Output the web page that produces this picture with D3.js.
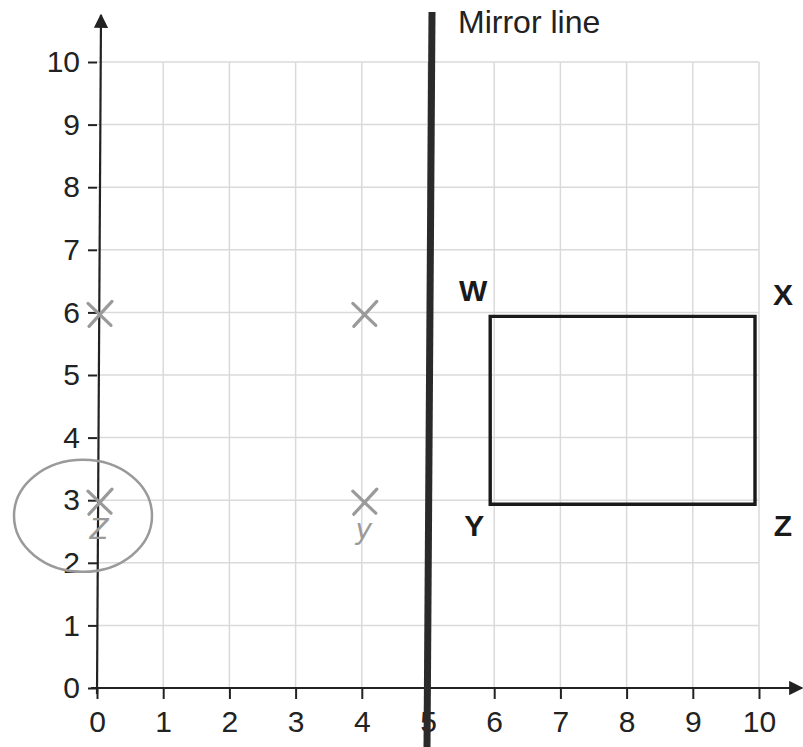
<!DOCTYPE html>
<html>
<head>
<meta charset="utf-8">
<script src="https://cdn.jsdelivr.net/npm/d3@7"></script>
<style>
  body { margin: 0; background: #fff; }
  svg { display: block; font-family: "Liberation Sans", Arial, sans-serif; }
</style>
</head>
<body>
<svg id="chart" width="803" height="747"></svg>
<script>
// axis ticks
const X_TICKS = [0, 1, 2, 3, 4, 5, 6, 7, 8, 9, 10];
const Y_TICKS = [0, 1, 2, 3, 4, 5, 6, 7, 8, 9, 10];

// the shape WXYZ
const SHAPE_NAMES = ["W", "X", "Z", "Y"];
const SHAPE_X = [6, 10, 10, 6];
const SHAPE_Y = [6, 6, 3, 3];

// mirror line
const MIRROR_X = 5;
const MIRROR_LABEL = "Mirror line";

// pencil marks from the student
const CROSS_X = [0, 4, 0, 4];
const CROSS_Y = [6, 6, 3, 3];
const NOTE_TEXT = ["Z", "y"];
const NOTE_X = [0, 4];
const NOTE_Y = [2.45, 2.45];

const svg = d3.select("#chart");

const x = d3.scaleLinear().domain([0, 10]).range([97, 759]);
const y = d3.scaleLinear().domain([0, 10]).range([688, 62]);

//Grid
svg.append("g").selectAll("line").data(X_TICKS.slice(1)).enter().append("line")
	.attr("x1", d => x(d)).attr("x2", d => x(d))
	.attr("y1", y(0)).attr("y2", y(10))
	.attr("stroke", "#dadada").attr("stroke-width", 1.5);
svg.append("g").selectAll("line").data(Y_TICKS.slice(1)).enter().append("line")
	.attr("x1", x(0)).attr("x2", x(10))
	.attr("y1", d => y(d)).attr("y2", d => y(d))
	.attr("stroke", "#dadada").attr("stroke-width", 1.5);

//Arrow marker
svg.append("defs").append("marker")
	.attr("id", "arrow").attr("viewBox", "0 0 10 10")
	.attr("refX", 9).attr("refY", 5)
	.attr("markerWidth", 6.5).attr("markerHeight", 6.5)
	.attr("markerUnits", "strokeWidth")
	.attr("orient", "auto")
	.append("path").attr("d", "M0,0 L10,5 L0,10 z").attr("fill", "#222");

//Axes
const xAxis = d3.axisBottom(x).tickValues(X_TICKS).tickSize(11).tickPadding(12).tickFormat(d3.format("d"));
const yAxis = d3.axisLeft(y).tickValues(Y_TICKS).tickSize(9).tickPadding(8).tickFormat(d3.format("d"));

const gx = svg.append("g").attr("transform", `translate(0,${y(0)})`).call(xAxis);
const gy = svg.append("g").attr("transform", `translate(${x(0)},0)`).call(yAxis);
for (const g of [gx, gy])
{
	g.select(".domain").remove();
	g.selectAll(".tick line").attr("stroke", "#222").attr("stroke-width", 2);
	g.selectAll(".tick text").attr("fill", "#222").attr("font-size", 30).attr("font-family", null);
}

svg.append("line")
	.attr("x1", x(0) - 6).attr("y1", y(0))
	.attr("x2", 802).attr("y2", y(0))
	.attr("stroke", "#222").attr("stroke-width", 2.2)
	.attr("marker-end", "url(#arrow)");
svg.append("line")
	.attr("x1", x(0)).attr("y1", y(0) + 6)
	.attr("x2", x(0) + 4).attr("y2", 15)
	.attr("stroke", "#222").attr("stroke-width", 2.2)
	.attr("marker-end", "url(#arrow)");

//Mirror line
svg.append("line")
	.attr("x1", x(MIRROR_X) + 4).attr("y1", 12)
	.attr("x2", x(MIRROR_X) - 1).attr("y2", 747)
	.attr("stroke", "#2a2a2a").attr("stroke-width", 7);
svg.append("text")
	.attr("x", 458).attr("y", 33)
	.attr("fill", "#222").attr("font-size", 32)
	.text(MIRROR_LABEL);

//Shape
const pts = SHAPE_X.map((d, i) => [x(d) - 4, y(SHAPE_Y[i]) + 4]);
svg.append("path")
	.attr("d", d3.line()(pts) + "Z")
	.attr("fill", "none").attr("stroke", "#1a1a1a").attr("stroke-width", 3.4);

const labelOffset = {W: [-21, -22], X: [24, -18], Y: [-20, 25], Z: [24, 25]};
svg.append("g").selectAll("text").data(SHAPE_NAMES).enter().append("text")
	.attr("x", (d, i) => x(SHAPE_X[i]) + labelOffset[d][0])
	.attr("y", (d, i) => y(SHAPE_Y[i]) + labelOffset[d][1])
	.attr("text-anchor", "middle").attr("dominant-baseline", "central")
	.attr("fill", "#1a1a1a").attr("font-size", 30).attr("font-weight", "bold")
	.text(d => d);

//Pencil marks
const pencil = svg.append("g").attr("stroke", "#9a9a9a").attr("stroke-width", 3.2).attr("fill", "none").attr("stroke-linecap", "round");
CROSS_X.forEach((cx, i) =>
{
	const px = x(cx) + 3, py = y(CROSS_Y[i]) + 2;
	pencil.append("line").attr("x1", px - 12).attr("y1", py - 11).attr("x2", px + 11).attr("y2", py + 11);
	pencil.append("line").attr("x1", px + 12).attr("y1", py - 13).attr("x2", px - 11).attr("y2", py + 12);
});
pencil.append("ellipse")
	.attr("cx", x(0) - 14).attr("cy", y(2.75))
	.attr("rx", 69).attr("ry", 56)
	.attr("stroke-width", 2.5);

svg.append("g").selectAll("text").data(NOTE_TEXT).enter().append("text")
	.attr("x", (d, i) => x(NOTE_X[i]) + 2)
	.attr("y", (d, i) => y(NOTE_Y[i]) + 4)
	.attr("text-anchor", "middle")
	.attr("fill", "#9a9a9a").attr("font-size", 28).attr("font-style", "italic")
	.attr("font-family", "'DejaVu Sans', sans-serif")
	.text(d => d);
</script>
</body>
</html>
